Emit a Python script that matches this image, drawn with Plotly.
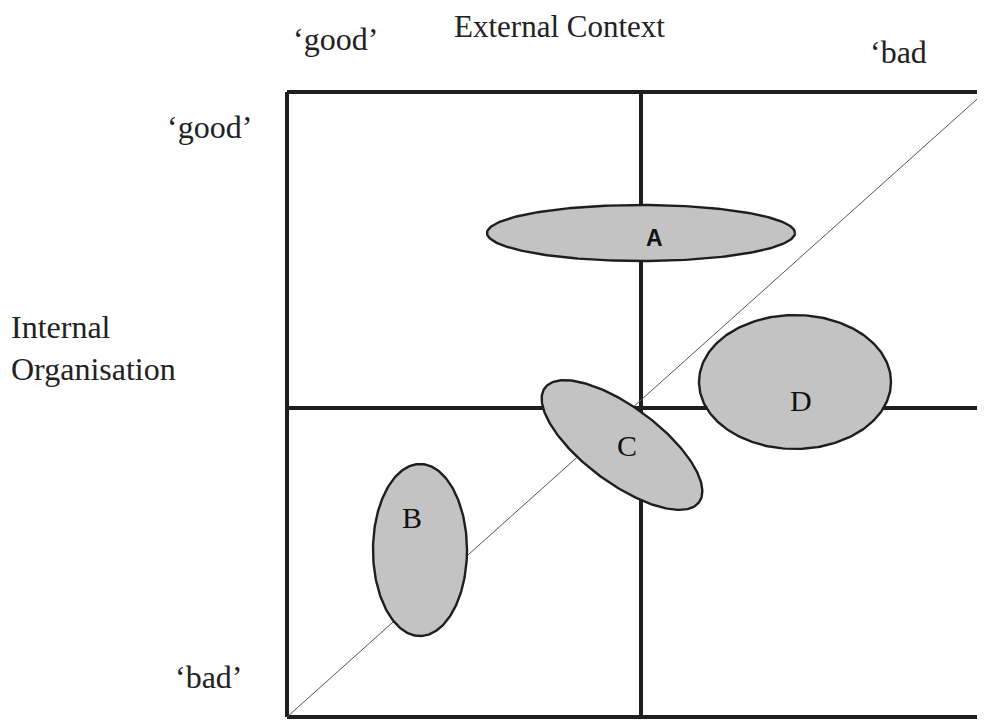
import numpy as np
import plotly.graph_objects as go

# ---- data (diagram units: 1 unit = 1 px of the quadrant area) ----
box_w = 698
box_h = 625
split_x = 354          # External Context split ('good' | 'bad')
split_y = 309          # Internal Organisation split ('bad' below | 'good' above)

ellipse_names = ["A", "B", "C", "D"]
ellipse_cx = [354, 133, 335, 508]
ellipse_cy = [484, 167, 272, 335]
ellipse_rx = [154, 47, 96, 96]
ellipse_ry = [28, 86, 38, 67]
ellipse_angle = [0, 0, -36.6, 0]
label_x = [367, 125, 340, 514]
label_y = [479, 200, 272, 317]
label_fonts = ["Liberation Sans", "Liberation Serif", "Liberation Serif", "Liberation Serif"]
label_sizes = [23, 30, 30, 30]

x_title = "External Context"
y_title = "Internal<br>Organisation"
x_low, x_high = "\u2018good\u2019", "\u2018bad"
y_high, y_low = "\u2018good\u2019", "\u2018bad\u2019"

LINE = "#1e1e1e"
FILL = "#c3c3c3"
SERIF = "Liberation Serif"

XR = [-10, 698]
YR = [-4, 635]

fig = go.Figure()

shapes = []
def seg(x0, y0, x1, y1, w=4, color=LINE):
    shapes.append(dict(type="line", xref="x", yref="y", x0=x0, y0=y0, x1=x1, y1=y1,
                       line=dict(color=color, width=w), layer="below"))

seg(0, 0, 0, box_h)
seg(0, box_h, box_w, box_h)
seg(0, 0, box_w, 0)
seg(split_x, 0, split_x, box_h)
seg(0, split_y, box_w, split_y)
seg(0, 0, box_w, box_h, w=1, color="#555555")

t = np.linspace(0, 2 * np.pi, 241)
for name, cx, cy, rx, ry, ang in zip(ellipse_names, ellipse_cx, ellipse_cy,
                                     ellipse_rx, ellipse_ry, ellipse_angle):
    a = np.deg2rad(ang)
    ex = rx * np.cos(t)
    ey = ry * np.sin(t)
    xs = cx + ex * np.cos(a) - ey * np.sin(a)
    ys = cy + ex * np.sin(a) + ey * np.cos(a)
    fig.add_trace(go.Scatter(x=xs, y=ys, mode="lines", fill="toself",
                             fillcolor=FILL, line=dict(color=LINE, width=2.4),
                             hoverinfo="skip", showlegend=False, name=name))

annotations = []
for name, lx, ly, fnt, sz in zip(ellipse_names, label_x, label_y, label_fonts, label_sizes):
    txt_name = "<b>" + name + "</b>" if fnt == "Liberation Sans" else name
    annotations.append(dict(x=lx, y=ly, xref="x", yref="y", text=txt_name, showarrow=False,
                            font=dict(family=fnt, size=sz, color="#111111")))

def txt(x, y, s, xanchor="center", align="center", yanchor="middle", size=32):
    px = (x - XR[0]) / (XR[1] - XR[0])
    py = (y - YR[0]) / (YR[1] - YR[0])
    annotations.append(dict(x=px, y=py, xref="paper", yref="paper", text=s, showarrow=False,
                            xanchor=xanchor, yanchor=yanchor, align=align, borderpad=0,
                            font=dict(family=SERIF, size=size, color="#222222")))

# title: anchored to the very top of the figure so its text box is not clipped
txt(272, 635 + 74, x_title, yanchor="top", size=31)
txt(48, 678, x_low)
txt(611, 665, x_high)
txt(-78, 590, y_high)
txt(-277, 369, y_title, xanchor="left", align="left")
txt(-78, 40, y_low)

# page body has an 8px margin: figure is shifted accordingly
fig.update_layout(
    width=977, height=713,
    margin=dict(l=269, r=0, t=74, b=0),
    paper_bgcolor="white", plot_bgcolor="white",
    xaxis=dict(range=XR, visible=False, fixedrange=True),
    yaxis=dict(range=YR, visible=False, fixedrange=True),
    shapes=shapes, annotations=annotations, showlegend=False,
)

fig.write_html("out.html")
